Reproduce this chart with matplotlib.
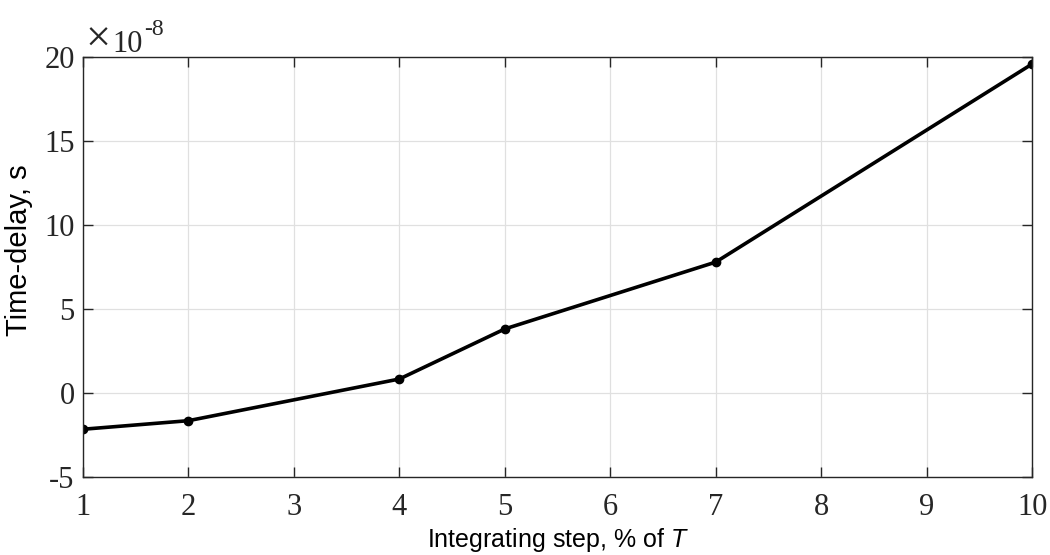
import numpy as np
import matplotlib
matplotlib.use('Agg')
import matplotlib.pyplot as plt
from matplotlib.ticker import FuncFormatter

# integrating step (% of T) and resulting time-delay (s)
steps = [1, 2, 4, 5, 7, 10]
delay = np.array([-2.14, -1.63, 0.85, 3.83, 7.81, 19.6]) * 1e-8

xticks = [1, 2, 3, 4, 5, 6, 7, 8, 9, 10]
yticks = np.array([-5, 0, 5, 10, 15, 20]) * 1e-8
yscale = 1e-8

plt.rcParams['mathtext.fontset'] = 'custom'
plt.rcParams['mathtext.it'] = 'Liberation Sans:italic'

axcol = '#262626'

fig = plt.figure(figsize=(10.5, 5.55), dpi=100)
ax = fig.add_axes([0.079, 0.14, 0.904, 0.7568])

ax.plot(steps, delay, '-o', color='black', lw=2.6, ms=6)

ax.set_xlim(1, 10)
ax.set_ylim(-5e-8, 20e-8)
ax.set_xticks(xticks)
ax.set_yticks(yticks)
ax.yaxis.set_major_formatter(FuncFormatter(lambda v, p: '%d' % round(v / yscale)))

ax.grid(True, color='#e0e0e0', lw=0.9)
ax.set_axisbelow(True)
for s in ax.spines.values():
	s.set_color(axcol)
	s.set_linewidth(1.0)

ax.tick_params(direction='in', length=7, width=1, color=axcol, top=True, right=True,
	labelcolor=axcol, labelsize=22)
ax.tick_params(axis='x', pad=11)
ax.tick_params(axis='y', pad=6)
for lab in ax.get_xticklabels() + ax.get_yticklabels():
	lab.set_family('Liberation Serif')

# exponent label, MATLAB style
ax.annotate('\u00d7', (0, 1), xycoords='axes fraction', xytext=(1.5, 3.8),
	textcoords='offset points', family='Liberation Serif', fontsize=32, color=axcol,
	va='baseline', ha='left')
ax.annotate('10', (0, 1), xycoords='axes fraction', xytext=(21.5, 3.8),
	textcoords='offset points', family='Liberation Serif', fontsize=22, color=axcol,
	va='baseline', ha='left')
ax.annotate('-8', (0, 1), xycoords='axes fraction', xytext=(44, 16),
	textcoords='offset points', family='Liberation Serif', fontsize=17, color=axcol,
	va='baseline', ha='left')

ax.set_xlabel('Integrating step, % of $\\mathit{T}$', family='Liberation Sans',
	fontsize=18, color='black', va='baseline')
ax.xaxis.set_label_coords(0.5, -0.167)
ax.set_ylabel('Time-delay, s', family='Liberation Sans', fontsize=21, color='black')
ax.yaxis.set_label_coords(-0.053, 0.54)

fig.savefig('out.png', dpi=100)
